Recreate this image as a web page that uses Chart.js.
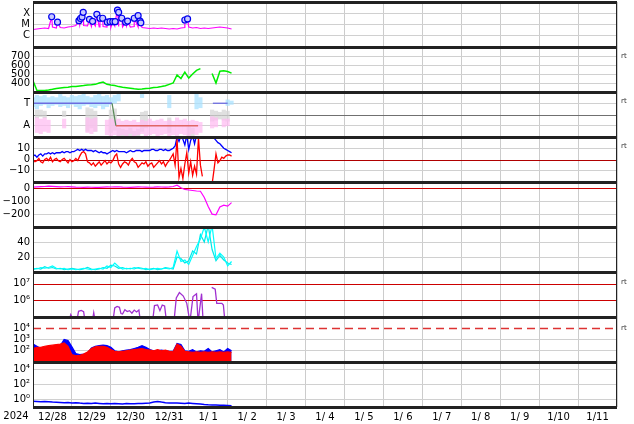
<!DOCTYPE html>
<html><head><meta charset="utf-8">
<script src="https://cdn.jsdelivr.net/npm/chart.js@4/dist/chart.umd.min.js"></script>
<style>
html,body{margin:0;padding:0;background:#fff;}
#wrap{position:relative;width:634px;height:424px;overflow:hidden;background:#fff;}
#wrap canvas{position:absolute;left:0;}
</style></head><body><div id="wrap"></div>
<script>
// ---------- labels ----------
const yearLabel = '2024';
const dayLabels = ['12/28','12/29','12/30','12/31','1/ 1','1/ 2','1/ 3','1/ 4','1/ 5','1/ 6','1/ 7','1/ 8','1/ 9','1/10','1/11'];
const DAYS = 15;          // x axis in days since 2024-12-28 00:00
const STEP = 0.1;         // sample spacing (days) of the regular series
const STEP_B = 0.05;      // sample spacing (days) of the magnetic field series

// ---------- panel 1 : X-ray flux (W/m2) ----------
const xrayBase = [3.6e-6,4.0e-6,4.4e-6,4.9e-6,4.4e-6,6.0e-6,4.9e-6,5.4e-6,4.9e-6,6.0e-6,
  6.6e-6,8.1e-6,9.0e-6,8.1e-6,7.4e-6,6.6e-6,7.4e-6,6.0e-6,6.6e-6,6.0e-6,
  5.4e-6,7.4e-6,6.6e-6,6.0e-6,7.4e-6,6.0e-6,6.6e-6,6.0e-6,5.4e-6,4.9e-6,
  4.4e-6,4.9e-6,4.4e-6,4.9e-6,4.4e-6,4.0e-6,4.4e-6,4.0e-6,4.9e-6,5.4e-6,
  6.0e-6,4.9e-6,5.4e-6,4.4e-6,4.9e-6,4.4e-6,4.9e-6,5.4e-6,6.0e-6,5.4e-6,
  4.9e-6,4.0e-6];
const flareT = [0.48,0.63,1.18,1.22,1.26,1.29,1.45,1.53,1.64,1.72,1.79,1.91,1.98,2.05,2.11,2.17,2.20,2.28,2.38,2.43,2.60,2.70,2.75,2.77,3.90,3.97];
const flareV = [4.9e-5,1.6e-5,2.2e-5,3.4e-5,4.6e-5,1.2e-4,2.9e-5,1.9e-5,8.1e-5,3.6e-5,3.6e-5,1.6e-5,1.8e-5,1.8e-5,1.8e-5,1.9e-4,1.2e-4,3.6e-5,1.6e-5,2.0e-5,3.6e-5,6.1e-5,2.0e-5,1.4e-5,2.5e-5,3.1e-5];

// ---------- panel 2 : solar wind speed (km/s) ----------
const windSpeed = [425,320,316,318,322,330,340,345,350,352,
  360,362,367,372,378,380,385,400,410,385,
  378,372,360,352,348,342,335,330,334,340,
  342,350,352,360,370,385,400,490,450,520,
  455,500,540,560,null,null,505,400,530,535,
  528,510];

// ---------- panel 3 : IMF sector (T = +1, A = -1), [low, high] clouds ----------
const imfBlue = [[0.7,1.5],[0.5,1.7],[0.8,1.6],[0.9,1.7],[0.6,1.5],[0.8,1.6],[0.9,1.5],[0.7,1.8],[0.8,1.6],[0.6,1.5],
  [0.9,1.7],[0.7,1.6],[0.5,1.7],[0.8,1.8],[0.9,1.6],[0.7,1.5],[0.6,1.7],[0.8,1.8],[0.5,1.6],[0.7,1.7],
  [0.9,1.5],[1.0,1.7],[1.2,1.8],null,null,null,null,null,[1.5,1.8],null,
  null,null,null,null,null,[0.6,1.7],null,null,null,null,
  null,null,[0.5,1.8],[0.6,1.5],null,null,null,null,null,null,
  [0.8,1.3],[0.9,1.2]];
const imfGray = [null,[-0.3,0.4],[-0.2,0.4],[-0.3,0.3],null,null,null,null,[-0.2,0.3],null,
  null,null,null,null,[-1.5,0.6],[-1.2,0.5],[-1.5,0.3],null,null,null,
  [-1.6,0.4],[-1.4,0.5],[-2,-1.2],[-2,-1.3],[-2,-1.4],[-2,-1.2],[-2,-1.5],[-2,-1.3],[-1.5,0.2],[-1.2,0.3],
  null,null,null,null,null,[-1.6,-0.3],null,null,null,null,
  [-2,-1.1],[-2,-1.2],null,null,null,null,[-0.6,0.4],[-0.5,0.3],[-0.4,0.2],[-0.5,0.4],
  [-0.6,0.3],null];
const imfPink = [null,[-1.6,-0.3],[-1.7,-0.4],[-1.5,-0.3],[-1.6,-0.5],null,null,null,[-1.2,-0.4],null,
  null,null,null,null,[-1.6,-0.3],[-1.7,-0.4],[-1.5,-0.3],null,null,[-1.8,-0.5],
  [-1.9,-0.4],[-1.8,-0.5],[-1.9,-0.4],[-1.8,-0.6],[-1.9,-0.5],[-1.7,-0.6],[-1.9,-0.5],[-1.8,-0.7],[-1.7,-0.5],[-1.9,-0.6],
  [-1.8,-0.4],[-1.7,-0.6],[-1.9,-0.5],[-1.8,-0.4],[-1.7,-0.6],[-1.9,-0.5],[-1.8,-0.6],[-1.9,-0.3],[-1.7,-0.5],[-1.8,-0.4],
  [-1.9,-0.6],[-1.7,-0.5],[-1.8,-0.6],[-1.6,-0.7],null,null,[-1.2,-0.2],[-1.1,-0.3],null,[-1.1,-0.4],
  [-1.0,-0.4],null];
const sectorT = [0, 2.03, 2.13, 4.24];
const sectorV = [1, 1, -1, -1];
const sector2T = [4.62, 5.0];
const sector2V = [1, 1];

// ---------- panel 4 : IMF Bt / Bz (nT), 0.05 day samples ----------
const imfBt = [3,4,2,4,5,3,5, 5,6,5,6,5,6,6, 6,7,6,7,7,6,7,7, 8,9,8,9,8,9,8,8,
  8,7,8,7,6,7,6,6, 5,6,7,8,7,8,7,7, 7,7,6,7,8,7,7,8, 8,8,7,8,8,8,8,9,
  9,8,8,9,9,8,9,8, 8,9,10,
  12,20,16,21,18,13,22,9,17,21,14,22,20,23,21,
  null,null,null,null,
  20,19,17,15,14,12,10,9,8,7,6];
const imfBz = [0,-2,-1,1,-2,-3,0, 1,-1,2,-2,0,1,-1, -2,0,1,-1,-3,0,-2,-1, 1,-1,3,6,7,5,-2,-3,
  -5,-3,-6,-4,-2,-5,-3,-1, -4,-2,-3,-1,3,5,-4,-7, -4,-2,-3,-5,-1,1,-2,-3, -7,-5,-3,-4,-2,-6,-4,-3,
  -7,-5,-3,-1,-4,-2,-6,-3, -1,2,5,
  -5,18,-16,-8,-17,-4,6,-12,-2,-14,-6,-13,19,-5,-15,
  null,null,null,null,
  -22,-9,5,-3,-1,2,1,3,4,4,3];

// ---------- panel 5 : Dst (nT) ----------
const dst = [10,12,14,15,18,16,14,12,13,14,
  12,10,9,8,10,9,8,8,10,12,
  11,12,13,10,9,8,10,12,11,10,
  9,10,12,11,10,12,15,25,5,-8,
  -12,-16,-20,-22,-70,-140,-200,-205,-145,-130,
  -138,-110];

// ---------- panel 6 : two cyan indices ----------
const cyanA = [5,4,6,5,6,8,5,4,5,3, 4,3,4,5,4,3,4,5,4,8, 6,12,7,4,5,4,6,5,4,5,
  3,4,5,4,5,4,6,28,14,16, 10,22,34,44,60,40,62,18,25,20, 8,14];
const cyanB = [3,5,4,7,5,6,4,5,3,4, 5,4,3,4,6,4,3,4,6,5, 9,8,5,6,4,5,4,6,5,3,
  4,5,3,4,6,5,4,20,18,12, 15,28,24,50,40,62,30,15,22,16, 12,10];

// ---------- panel 7 : electron flux ----------
const elecT = [0.92,0.97,1.02,1.07, 1.12,1.17,1.24,1.30,1.34,1.43, 1.52,1.56,1.60,1.8,
  2.05,2.10,2.16,2.22,2.26,2.30,2.36,2.42,2.48,2.54,2.60,2.66,2.72,2.76,2.9,
  3.07,3.12,3.20,3.26,3.32,3.38,3.43,3.5,
  3.62,3.68,3.76,3.86,3.95,4.03,4.11,4.20,4.24,4.33,4.37,4.45,
  4.59,4.68,4.72,4.85,4.89,4.93];
const elecV = [5e4,1.4e5,8e4,null, 5e4,2.2e5,2.5e5,2.1e5,5e4,null, 5e4,1.8e5,5e4,null,
  5e4,3.5e5,4.3e5,3.8e5,1.6e5,1.5e5,2.7e5,2.1e5,2.4e5,1.7e5,2.6e5,2.0e5,2.6e5,5e4,null,
  5e4,4.8e5,5.3e5,2.4e5,5.2e5,4.6e5,5e4,null,
  5e4,1.4e6,2.9e6,1.8e6,6.6e5,5e4,1.7e6,2.5e6,5e4,2.5e6,5e4,null,
  6.0e6,4.7e6,6.6e5,6.6e5,5.2e5,5e4];

// ---------- panel 8 : proton flux upper envelopes ----------
const protonBlue = [398,251,158,100,126,200,224,282,1000,794,224,56,45,50,63,178,251,282,316,282,
  200,100,79,100,112,126,158,200,282,200,126,100,100,112,100,89,89,447,355,100,
  89,126,79,100,89,158,79,100,126,79,158,100];
const protonRed = [158,200,200,251,282,316,355,398,501,251,45,35,40,50,79,158,224,251,251,200,
  126,89,79,89,100,112,126,141,158,126,112,100,126,100,112,89,79,398,251,89,
  79,71,79,71,79,71,79,71,79,71,79,71];

// ---------- panel 9 : low flux (blue) ----------
const lowFlux = [0.6,0.55,0.5,0.55,0.5,0.45,0.42,0.4,0.38,0.4,
  0.35,0.38,0.33,0.3,0.32,0.3,0.33,0.3,0.28,0.3,
  0.27,0.3,0.28,0.26,0.3,0.28,0.27,0.29,0.3,0.32,
  0.35,0.45,0.55,0.45,0.38,0.35,0.33,0.35,0.32,0.3,
  0.33,0.3,0.28,0.25,0.22,0.2,0.19,0.18,0.17,0.17,
  0.16,0.15];

// ================= rendering =================
const W = 634, AXIS_W = 33, RIGHT_PAD = 17, PANEL_H = 45, TOP0 = 2, PAD = 12, H = 424;
const GRID = '#d0d0d0';
Chart.defaults.font.family = '"DejaVu Sans", sans-serif';
Chart.defaults.font.size = 10;
Chart.defaults.color = '#000';

const seq = (vals, step) => vals.map((v, i) => ({x: Math.round(i * step * 1000) / 1000, y: v}));
const pairs = (ts, vs) => ts.map((t, i) => ({x: t, y: vs[i]}));
const bars = (arr, step) => { const o = []; arr.forEach((r, i) => { if (r) o.push({x: Math.round(i * step * 1000) / 1000, y: r}); }); return o; };
const lineDs = (data, color, w, extra) => Object.assign({type: 'line', data, borderColor: color, backgroundColor: color,
  borderWidth: w, pointRadius: 0, tension: 0, spanGaps: false, fill: false}, extra || {});
const barDs = (arr, color) => ({type: 'bar', data: bars(arr, STEP), backgroundColor: color, borderWidth: 0,
  barThickness: 3.5, grouped: false});

const xrayPoints = seq(xrayBase, STEP).concat(pairs(flareT, flareV)).sort((a, b) => a.x - b.x);
const sectorColors = ['#6c6ce0', '#5a8a5a', '#e06666'];

const panels = [
  {type: 'logarithmic', min: 1e-7, max: 1e-3, ticks: [1e-6, 1e-5, 1e-4], labels: ['C', 'M', 'X'], refs: [], noGrid: [],
   datasets: [
     {type: 'line', data: pairs(flareT, flareV), showLine: false, pointRadius: 3, pointStyle: 'circle',
      pointBackgroundColor: '#c8c8ff', pointBorderColor: '#0000ee', pointBorderWidth: 1.2},
     lineDs(xrayPoints, '#ff00ff', 1.2)]},
  {type: 'linear', min: 300, max: 800, ticks: [400, 500, 600, 700], labels: ['400', '500', '600', '700'], refs: [], noGrid: [], rt: 700,
   datasets: [lineDs(seq(windSpeed, STEP), '#00ee00', 1.5)]},
  {type: 'linear', min: -2, max: 2, ticks: [-1, 1], labels: ['A', 'T'], refs: [{v: 0, color: '#707070'}], noGrid: [], rt: 1.15,
   datasets: [
     lineDs(pairs(sectorT, sectorV), '#6c6ce0', 1.3, {segment: {borderColor: c => sectorColors[c.p0DataIndex]}}),
     lineDs(pairs(sector2T, sector2V), '#6c6ce0', 1.3),
     barDs(imfBlue, 'rgba(170,225,255,0.75)'),
     barDs(imfPink, 'rgba(255,190,242,0.75)'),
     barDs(imfGray, 'rgba(214,214,214,0.75)')]},
  {type: 'linear', min: -20, max: 20, ticks: [-10, 0, 10], labels: ['\u221210', '0', '10'], refs: [{v: 0, color: '#b00000'}], noGrid: [0], rt: 11.5,
   datasets: [lineDs(seq(imfBz, STEP_B), '#ff0000', 1.3), lineDs(seq(imfBt, STEP_B), '#0000ff', 1.3)]},
  {type: 'linear', min: -300, max: 50, ticks: [-200, -100, 0], labels: ['\u2212200', '\u2212100', '0'], refs: [{v: 0, color: '#cc0000'}], noGrid: [0],
   datasets: [lineDs(seq(dst, STEP), '#ff00ff', 1.2)]},
  {type: 'linear', min: 0, max: 60, ticks: [20, 40], labels: ['20', '40'], refs: [], noGrid: [],
   datasets: [lineDs(seq(cyanA, STEP), '#00ffff', 1.2), lineDs(seq(cyanB, STEP), '#00e8e8', 1.2)]},
  {type: 'logarithmic', min: 1e5, max: 5e7, ticks: [1e6, 1e7], labels: ['10\u2076', '10\u2077'],
   refs: [{v: 1e6, color: '#cc0000'}, {v: 1e7, color: '#cc0000'}], noGrid: [1e6, 1e7], rt: 1.3e7,
   datasets: [lineDs(pairs(elecT, elecV), '#a030d0', 1.3)]},
  {type: 'logarithmic', min: 10, max: 1e5, ticks: [1e2, 1e3, 1e4], labels: ['10\u00b2', '10\u00b3', '10\u2074'],
   refs: [{v: 1e4, color: '#dd3333', dash: [8, 5], w: 1.5}], noGrid: [1e4], rt: 1e4,
   datasets: [lineDs(seq(protonRed, STEP), '#ff0000', 1.2, {fill: 'start'}),
              lineDs(seq(protonBlue, STEP), '#0000ff', 1.2, {fill: 'start'})]},
  {type: 'logarithmic', min: 0.1, max: 1e5, ticks: [1, 1e2, 1e4], labels: ['10\u2070', '10\u00b2', '10\u2074'], refs: [], noGrid: [],
   datasets: [lineDs(seq(lowFlux, STEP), '#0000ff', 1.5)]}
];

const deco = {
  id: 'deco',
  beforeDatasetsDraw(chart, args, o) {
    const {ctx, chartArea: a} = chart; const ys = chart.scales.y;
    (o.refs || []).forEach(r => {
      const py = Math.round(ys.getPixelForValue(r.v)) + 0.5;
      ctx.save(); ctx.strokeStyle = r.color; ctx.lineWidth = r.w || 1; ctx.setLineDash(r.dash || []);
      ctx.beginPath(); ctx.moveTo(a.left, py); ctx.lineTo(a.right, py); ctx.stroke(); ctx.restore();
    });
  },
  afterDraw(chart, args, o) {
    const {ctx, chartArea: a} = chart;
    ctx.save();
    ctx.fillStyle = '#222';
    ctx.fillRect(a.left, a.top, 1, a.bottom - a.top);
    ctx.fillRect(a.right - 1, a.top, 1, a.bottom - a.top);
    ctx.fillRect(a.left, a.top - 1, a.right - a.left, 3);
    ctx.fillRect(a.left, a.bottom - 1, a.right - a.left, 3);
    if (o.rt != null) {
      const py = chart.scales.y.getPixelForValue(o.rt);
      ctx.fillStyle = '#333'; ctx.font = '7px "DejaVu Sans"'; ctx.textAlign = 'left'; ctx.textBaseline = 'middle';
      ctx.fillText('rt', a.right + 4, py);
    }
    if (o.year) {
      ctx.fillStyle = '#000'; ctx.font = '10px "DejaVu Sans"'; ctx.textAlign = 'center'; ctx.textBaseline = 'top';
      ctx.fillText(o.year, 16, a.bottom + 4);
    }
    ctx.restore();
  }
};

const wrap = document.getElementById('wrap');
const dayEdges = Array.from({length: DAYS + 1}, (_, i) => i);

panels.forEach((p, k) => {
  const isLast = k === panels.length - 1;
  const top = TOP0 + PANEL_H * k;
  const cTop = top - PAD;
  const cH = isLast ? (H - cTop) : PANEL_H + 2 * PAD;
  const cv = document.createElement('canvas');
  cv.width = W; cv.height = cH;
  cv.style.top = cTop + 'px'; cv.style.width = W + 'px'; cv.style.height = cH + 'px';
  wrap.appendChild(cv);
  const scales = {
    x: {type: 'linear', min: 0, max: DAYS, position: 'bottom', offset: false,
        afterBuildTicks: s => { s.ticks = dayEdges.map(v => ({value: v})); },
        afterFit: s => { s.height = 0; },
        ticks: {display: false}, grid: {color: '#cccccc', drawTicks: false, offset: false}, border: {display: false}},
    y: {type: p.type, min: p.min, max: p.max, position: 'left',
        afterBuildTicks: s => { s.ticks = p.ticks.map(v => ({value: v})); },
        afterFit: s => { s.width = AXIS_W; },
        ticks: {autoSkip: false, padding: 3, color: '#000', font: {size: 10}, callback: (v, i) => p.labels[i]},
        grid: {drawTicks: false, color: c => (c.tick && p.noGrid.includes(c.tick.value)) ? 'rgba(0,0,0,0)' : GRID},
        border: {display: false}}
  };
  if (isLast) {
    scales.x2 = {type: 'linear', min: 0, max: DAYS, position: 'bottom', offset: false,
      afterBuildTicks: s => { s.ticks = dayLabels.map((_, i) => ({value: i + 0.5})); },
      afterFit: s => { s.height = 17; },
      ticks: {autoSkip: false, maxRotation: 0, minRotation: 0, padding: 4, color: '#000', font: {size: 10}, callback: (v, i) => dayLabels[i]},
      grid: {display: false, drawTicks: false}, border: {display: false}};
  }
  new Chart(cv, {
    type: 'line',
    data: {datasets: p.datasets},
    options: {
      responsive: false, animation: false, devicePixelRatio: 1, events: [],
      layout: {padding: {left: 0, right: RIGHT_PAD, top: PAD, bottom: isLast ? 0 : PAD}},
      plugins: {legend: {display: false}, tooltip: {enabled: false},
                deco: {refs: p.refs, rt: p.rt, year: isLast ? yearLabel : null}},
      scales
    },
    plugins: [deco]
  });
});
</script></body></html>
